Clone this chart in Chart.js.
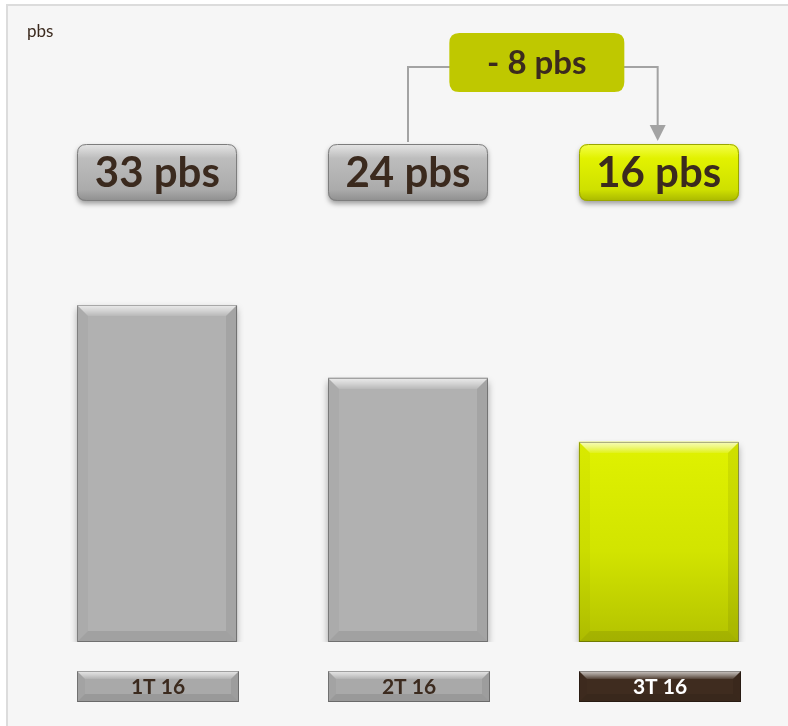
<!DOCTYPE html>
<html>
<head>
<meta charset="utf-8">
<script src="https://cdn.jsdelivr.net/npm/chart.js@4.4.1/dist/chart.umd.min.js"></script>
<style>
  html, body { margin: 0; padding: 0; background: #ffffff; }
  #wrap { width: 788px; height: 726px; position: relative; }
</style>
</head>
<body>
<div id="wrap"><canvas id="chart" width="788" height="726"></canvas></div>
<script>
const categories = ['1T 16', '2T 16', '3T 16'];
const values = [33, 24, 16];
const valueLabels = ['33 pbs', '24 pbs', '16 pbs'];
const highlighted = [false, false, true];
const diffLabel = '- 8 pbs';
const unitLabel = 'pbs';

const TEXT = '#3b2a1e';
const FONT = 'Lato, "Open Sans", sans-serif';

function roundRect(ctx, x, y, w, h, r) {
    ctx.beginPath();
    ctx.moveTo(x + r, y);
    ctx.lineTo(x + w - r, y);
    ctx.quadraticCurveTo(x + w, y, x + w, y + r);
    ctx.lineTo(x + w, y + h - r);
    ctx.quadraticCurveTo(x + w, y + h, x + w - r, y + h);
    ctx.lineTo(x + r, y + h);
    ctx.quadraticCurveTo(x, y + h, x, y + h - r);
    ctx.lineTo(x, y + r);
    ctx.quadraticCurveTo(x, y, x + r, y);
    ctx.closePath();
}

function poly(ctx, pts, fill) {
    ctx.beginPath();
    ctx.moveTo(pts[0][0], pts[0][1]);
    pts.slice(1).forEach(p => ctx.lineTo(p[0], p[1]));
    ctx.closePath();
    ctx.fillStyle = fill;
    ctx.fill();
}

// bevel look on a plain rectangle
function bevel(ctx, x0, y0, x1, y1, b) {
    const top = ctx.createLinearGradient(0, y0, 0, y0 + b);
    top.addColorStop(0, 'rgba(255,255,255,0.75)');
    top.addColorStop(0.5, 'rgba(255,255,255,0.45)');
    top.addColorStop(1, 'rgba(255,255,255,0.1)');
    poly(ctx, [[x0, y0], [x1, y0], [x1 - b, y0 + b], [x0 + b, y0 + b]], top);
    poly(ctx, [[x0, y0], [x0 + b, y0 + b], [x0 + b, y1 - b], [x0, y1]], 'rgba(0,0,0,0.03)');
    poly(ctx, [[x1, y0], [x1 - b, y0 + b], [x1 - b, y1 - b], [x1, y1]], 'rgba(0,0,0,0.07)');
    poly(ctx, [[x0, y1], [x0 + b, y1 - b], [x1 - b, y1 - b], [x1, y1]], 'rgba(0,0,0,0.09)');
    ctx.strokeStyle = 'rgba(0,0,0,0.3)';
    ctx.lineWidth = 1;
    ctx.strokeRect(x0 + 0.5, y0 + 0.5, x1 - x0 - 1, y1 - y0 - 1);
}

const decor = {
    id: 'decor',
    beforeDraw(chart) {
        const ctx = chart.ctx;
        ctx.save();
        ctx.fillStyle = '#ffffff';
        ctx.fillRect(0, 0, chart.width, chart.height);
        ctx.fillStyle = '#f6f6f6';
        ctx.fillRect(7, 5, chart.width - 7, chart.height - 5);
        ctx.fillStyle = '#dcdcdc';
        ctx.fillRect(7, 4, chart.width - 7, 2);
        ctx.fillRect(6, 4, 2, chart.height - 4);
        ctx.fillStyle = TEXT;
        ctx.font = '17px ' + FONT;
        ctx.textBaseline = 'alphabetic';
        ctx.fillText(unitLabel, 27, 37);
        ctx.restore();
    },
    beforeDatasetDraw(chart) {
        const ctx = chart.ctx;
        ctx.save();
        ctx.shadowColor = 'rgba(0,0,0,0.35)';
        ctx.shadowBlur = 7;
        ctx.shadowOffsetY = 4;
    },
    afterDatasetDraw(chart) {
        chart.ctx.restore();
    },
    afterDatasetsDraw(chart) {
        const ctx = chart.ctx;
        const meta = chart.getDatasetMeta(0);
        ctx.save();
        meta.data.forEach((bar, i) => {
            const p = bar.getProps(['x', 'y', 'base', 'width'], true);
            const x0 = Math.round(p.x - p.width / 2), x1 = Math.round(p.x + p.width / 2);
            bevel(ctx, x0, Math.round(p.y), x1, Math.round(p.base), 11);

            // value label box
            const by = 144, bh = 57;
            ctx.save();
            ctx.shadowColor = 'rgba(0,0,0,0.35)';
            ctx.shadowBlur = 5;
            ctx.shadowOffsetY = 3;
            const g = ctx.createLinearGradient(0, by, 0, by + bh);
            if (highlighted[i]) {
                g.addColorStop(0, '#f4ff4a');
                g.addColorStop(0.25, '#e2f200');
                g.addColorStop(0.8, '#cfe000');
                g.addColorStop(1, '#a9b800');
            } else {
                g.addColorStop(0, '#e6e6e6');
                g.addColorStop(0.25, '#bdbdbd');
                g.addColorStop(0.8, '#ababab');
                g.addColorStop(1, '#8e8e8e');
            }
            roundRect(ctx, x0, by, x1 - x0, bh, 9);
            ctx.fillStyle = g;
            ctx.fill();
            ctx.restore();
            roundRect(ctx, x0 + 0.5, by + 0.5, x1 - x0 - 1, bh - 1, 9);
            ctx.strokeStyle = highlighted[i] ? '#9aa600' : '#7d7d7d';
            ctx.lineWidth = 1;
            ctx.stroke();
            ctx.fillStyle = TEXT;
            ctx.font = 'bold 42px ' + FONT;
            ctx.textAlign = 'center';
            ctx.textBaseline = 'middle';
            ctx.fillText(valueLabels[i], p.x, by + bh / 2 + 1);

            // category box
            const cy = 671, ch = 31;
            const c0 = x0, c1 = x1 + 2;
            ctx.fillStyle = highlighted[i] ? '#3f2c1f' : '#a9a9a9';
            ctx.fillRect(c0, cy, c1 - c0, ch);
            bevel(ctx, c0, cy, c1, cy + ch, 8);
            ctx.fillStyle = highlighted[i] ? '#ffffff' : TEXT;
            ctx.font = 'bold 21px ' + FONT;
            ctx.fillText(categories[i], (c0 + c1) / 2, cy + ch / 2 + 1);
        });

        // change callout between the last two bars
        const a = meta.data[1].x, b = meta.data[2].x - 1;
        const lineY = 67;
        ctx.strokeStyle = '#a3a3a3';
        ctx.lineWidth = 2;
        ctx.beginPath();
        ctx.moveTo(a, 142);
        ctx.lineTo(a, lineY);
        ctx.lineTo(b, lineY);
        ctx.lineTo(b, 127);
        ctx.stroke();
        poly(ctx, [[b - 8, 125], [b + 8, 125], [b, 141]], '#a3a3a3');

        const w = 175, h = 59, mx = (a + b) / 2 + 4;
        roundRect(ctx, mx - w / 2, 33, w, h, 10);
        ctx.fillStyle = '#bfc800';
        ctx.fill();
        ctx.fillStyle = TEXT;
        ctx.font = 'bold 33px ' + FONT;
        ctx.textAlign = 'center';
        ctx.textBaseline = 'middle';
        ctx.fillText(diffLabel, mx, 33 + h / 2 + 1);
        ctx.restore();
    }
};

new Chart(document.getElementById('chart'), {
    type: 'bar',
    data: {
        labels: categories,
        datasets: [{
            data: values,
            base: -9,
            backgroundColor: ctx => {
                if (!highlighted[ctx.dataIndex]) {
                    return '#b1b1b1';
                }
                const area = ctx.chart.chartArea;
                if (!area) {
                    return '#d6e800';
                }
                const g = ctx.chart.ctx.createLinearGradient(0, 440, 0, area.bottom);
                g.addColorStop(0, '#e0f200');
                g.addColorStop(0.55, '#d2e400');
                g.addColorStop(1, '#b3c200');
                return g;
            },
            borderWidth: 0,
            barPercentage: 0.637,
            categoryPercentage: 1
        }]
    },
    options: {
        responsive: false,
        animation: false,
        layout: { padding: { top: 89, bottom: 84, left: 32, right: 4 } },
        plugins: { legend: { display: false }, tooltip: { enabled: false } },
        scales: {
            x: { display: false },
            y: { display: false, min: -9, max: 60 }
        }
    },
    plugins: [decor]
});
</script>
</body>
</html>
